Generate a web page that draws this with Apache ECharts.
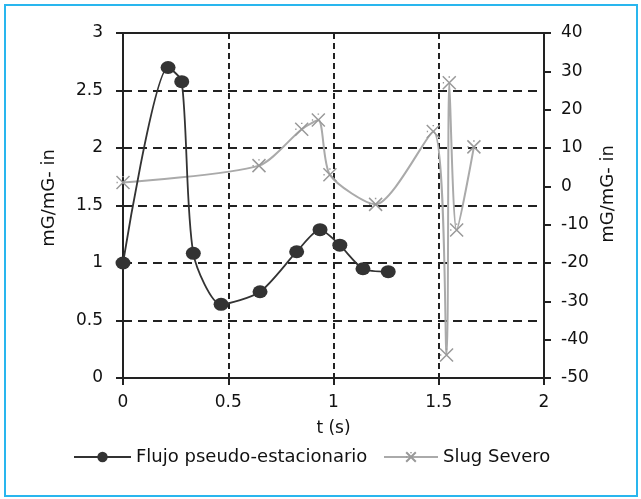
<!DOCTYPE html>
<html>
<head>
<meta charset="utf-8">
<script src="https://cdn.jsdelivr.net/npm/echarts@6/dist/echarts.min.js"></script>
<style>
html,body{margin:0;padding:0;background:#fff;}
#c{width:641px;height:499px;}
</style>
</head>
<body>
<div id="c"></div>
<script>
// Data
var xTicks = [0, 0.5, 1, 1.5, 2];
var leftTicks = [0, 0.5, 1, 1.5, 2, 2.5, 3];
var rightTicks = [-50, -40, -30, -20, -10, 0, 10, 20, 30, 40];

var pseudoX = [0, 0.214, 0.279, 0.334, 0.466, 0.651, 0.825, 0.936, 1.03, 1.14, 1.26];
var pseudoY = [1.0, 2.70, 2.577, 1.084, 0.641, 0.750, 1.098, 1.290, 1.155, 0.950, 0.925];

var slugX = [0, 0.646, 0.849, 0.928, 0.983, 1.20, 1.474, 1.537, 1.55, 1.585, 1.667];
var slugY = [1.0, 5.4, 14.9, 17.3, 3.0, -4.7, 14.3, -44.0, 27.0, -11.4, 10.3];

var seriesNames = ['Flujo pseudo-estacionario', 'Slug Severo'];
var xName = 't (s)';
var yName = 'mG/mG- in';

function pairs(xs, ys){ return xs.map(function(x,i){ return [x, ys[i]]; }); }

var FONT = 'DejaVu Sans';
var chart = echarts.init(document.getElementById('c'), null, {renderer:'canvas'});
var xMark = 'path://M0,0L10,10M10,0L0,10M5,0L5,1M0,5L1,5';

chart.setOption({
  backgroundColor: '#fff',
  animation: false,
  textStyle: {fontFamily: FONT},
  grid: {left: 123, right: 97, top: 33, bottom: 121, show: true, borderColor: '#222', borderWidth: 2, backgroundColor: 'transparent'},
  xAxis: {
    type: 'value', min: xTicks[0], max: xTicks[xTicks.length-1], interval: 0.5,
    name: xName, nameLocation: 'middle', nameGap: 42,
    nameTextStyle: {fontFamily: FONT, fontSize: 17, color: '#111'},
    axisLine: {show: true, onZero: false, lineStyle: {color: '#222', width: 2}},
    axisTick: {show: true, length: 7, lineStyle: {color: '#222', width: 2}},
    axisLabel: {fontFamily: FONT, fontSize: 17, color: '#111', margin: 16},
    splitLine: {show: true, lineStyle: {color: '#222', width: 2, type: [6,4]}}
  },
  yAxis: [{
    type: 'value', position: 'left', min: leftTicks[0], max: leftTicks[leftTicks.length-1], interval: 0.5,
    axisLine: {show: true, onZero: false, lineStyle: {color: '#222', width: 2}},
    axisTick: {show: true, length: 7, lineStyle: {color: '#222', width: 2}},
    axisLabel: {fontFamily: FONT, fontSize: 17, color: '#111', margin: 20},
    splitLine: {show: true, lineStyle: {color: '#222', width: 2, type: [9,6]}}
  }, {
    type: 'value', position: 'right', min: rightTicks[0], max: rightTicks[rightTicks.length-1], interval: 10,
    axisLine: {show: true, onZero: false, lineStyle: {color: '#222', width: 2}},
    axisTick: {show: true, length: 7, lineStyle: {color: '#222', width: 2}},
    axisLabel: {fontFamily: FONT, fontSize: 17, color: '#111', margin: 17},
    splitLine: {show: false}
  }],
  legend: [{
    data: [seriesNames[0]], left: 68, top: 443, itemWidth: 57, itemHeight: 13,
    textStyle: {fontFamily: FONT, fontSize: 18, color: '#111'}
  }, {
    data: [seriesNames[1]], left: 378, top: 443, itemWidth: 54, itemHeight: 12,
    textStyle: {fontFamily: FONT, fontSize: 18, color: '#111'}
  }],
  graphic: [
    {type: 'rect', shape: {x: 5, y: 5, width: 632, height: 491}, style: {fill: 'none', stroke: '#29b6ee', lineWidth: 2}, silent: true},
    {type: 'text', x: 49, y: 198, rotation: Math.PI/2, style: {text: yName, fontFamily: FONT, fontSize: 18, fill: '#111', align: 'center', verticalAlign: 'middle'}},
    {type: 'text', x: 608, y: 194, rotation: Math.PI/2, style: {text: yName, fontFamily: FONT, fontSize: 18, fill: '#111', align: 'center', verticalAlign: 'middle'}}
  ],
  series: [{
    name: seriesNames[0], type: 'line', yAxisIndex: 0,
    data: pairs(pseudoX, pseudoY), smooth: 0.25,
    symbol: 'circle', symbolSize: [15, 13],
    lineStyle: {color: '#333', width: 1.8},
    itemStyle: {color: '#333'},
    z: 3
  }, {
    name: seriesNames[1], type: 'line', yAxisIndex: 1,
    data: pairs(slugX, slugY), smooth: 0.25,
    symbol: xMark, symbolSize: 13,
    lineStyle: {color: '#aaa', width: 2},
    itemStyle: {color: 'rgba(0,0,0,0)', borderColor: '#999', borderWidth: 1.5},
    z: 2
  }]
});
</script>
</body>
</html>
